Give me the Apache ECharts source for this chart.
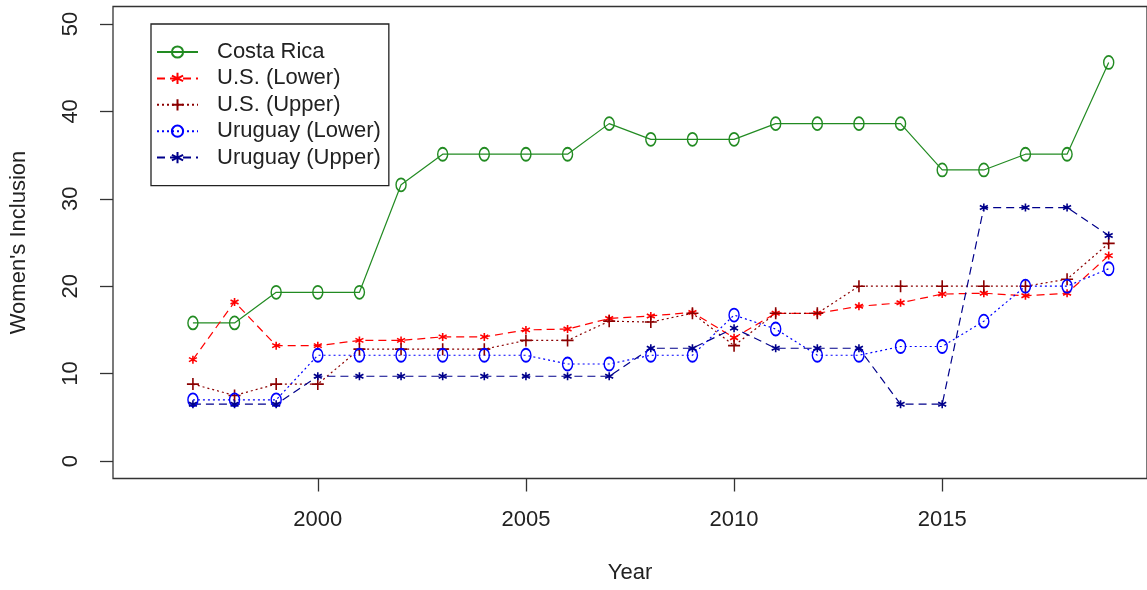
<!DOCTYPE html>
<html>
<head>
<meta charset="utf-8">
<script src="https://cdn.jsdelivr.net/npm/echarts@6/dist/echarts.min.js"></script>
<style>
  html, body { margin: 0; padding: 0; background: #fff; }
  #chart { width: 1147px; height: 590px; }
</style>
</head>
<body>
<div id="chart"></div>
<script>
'use strict';

const years = [1997, 1998, 1999, 2000, 2001, 2002, 2003, 2004, 2005, 2006, 2007, 2008,
  2009, 2010, 2011, 2012, 2013, 2014, 2015, 2016, 2017, 2018, 2019];
const costaRica = [15.8, 15.8, 19.3, 19.3, 19.3, 31.6, 35.1, 35.1, 35.1, 35.1, 38.6, 36.8,
  36.8, 36.8, 38.6, 38.6, 38.6, 38.6, 33.3, 33.3, 35.1, 35.1, 45.6];
const usLower = [11.6, 18.2, 13.2, 13.2, 13.8, 13.8, 14.2, 14.2, 15.0, 15.1, 16.3, 16.6,
  17.0, 14.1, 16.9, 16.9, 17.7, 18.1, 19.1, 19.2, 18.9, 19.2, 23.5];
const usUpper = [8.8, 7.5, 8.8, 8.8, 12.8, 12.8, 12.8, 12.8, 13.8, 13.8, 16.0, 15.9,
  16.9, 13.2, 16.9, 16.9, 20.0, 20.0, 20.0, 20.0, 20.0, 20.8, 24.9];
const uyLower = [7.0, 7.0, 7.0, 12.1, 12.1, 12.1, 12.1, 12.1, 12.1, 11.1, 11.1, 12.1,
  12.1, 16.7, 15.1, 12.1, 12.1, 13.1, 13.1, 16.0, 20.0, 20.0, 22.0];
const uyUpper = [6.5, 6.5, 6.5, 9.7, 9.7, 9.7, 9.7, 9.7, 9.7, 9.7, 9.7, 12.9,
  12.9, 15.2, 12.9, 12.9, 12.9, 6.5, 6.5, 29.0, 29.0, 29.0, 25.8];
const xTicks = [2000, 2005, 2010, 2015];
const yTicks = [0, 10, 20, 30, 40, 50];

const FONT = 'Liberation Sans, Arial, sans-serif';
const SYM_O = 'path://M0,-1A0.72,1 0 1 1 0,1A0.72,1 0 1 1 0,-1Z';
const SYM_STAR = 'path://M0,-1L0,1M-0.87,-0.5L0.87,0.5M-0.87,0.5L0.87,-0.5';
const SYM_PLUS = 'path://M-1,0L1,0M0,-1L0,1';

function lineSeries(name, values, color, dash, symbol, size) {
  return {
    name: name,
    type: 'line',
    data: years.map((y, i) => [y, values[i]]),
    symbol: symbol,
    symbolSize: size,
    showSymbol: true,
    clip: true,
    lineStyle: { color: color, width: 1.2, type: dash },
    itemStyle: { color: 'rgba(0,0,0,0)', borderColor: color, borderWidth: 1.6 },
    emphasis: { disabled: true },
  };
}

const chart = echarts.init(document.getElementById('chart'));
chart.setOption({
  animation: false,
  backgroundColor: '#fff',
  grid: {
    left: 112, top: 6.5, width: 1037, height: 472,
    show: true, borderColor: '#333', borderWidth: 1.3, backgroundColor: 'transparent',
  },
  legend: {
    orient: 'vertical',
    left: 151, top: 24,
    padding: [16, 8, 16, 5],
    itemWidth: 41, itemHeight: 14, itemGap: 2.4,
    borderColor: '#222', borderWidth: 1.3, backgroundColor: '#fff',
    textStyle: { fontFamily: FONT, fontSize: 22, color: '#222', lineHeight: 24, padding: [0, 0, 0, 14] },
    data: ['Costa Rica', 'U.S. (Lower)', 'U.S. (Upper)', 'Uruguay (Lower)', 'Uruguay (Upper)'],
  },
  xAxis: {
    type: 'value', min: 1995.08, max: 2019.92,
    name: 'Year', nameLocation: 'middle', nameGap: 83,
    nameTextStyle: { fontFamily: FONT, fontSize: 22, color: '#222' },
    axisLine: { show: false, onZero: false },
    splitLine: { show: false },
    axisTick: { show: true, customValues: xTicks, length: 13, inside: false, lineStyle: { color: '#333', width: 1.3 } },
    axisLabel: {
      customValues: xTicks, margin: 30, fontFamily: FONT, fontSize: 22, color: '#222',
      formatter: (v) => String(v),
    },
  },
  yAxis: {
    type: 'value', min: -2, max: 52,
    name: "Women's Inclusion", nameLocation: 'middle', nameGap: 83, nameRotate: 90,
    nameTextStyle: { fontFamily: FONT, fontSize: 22, color: '#222' },
    axisLine: { show: false, onZero: false },
    splitLine: { show: false },
    axisTick: { show: true, customValues: yTicks, length: 13, inside: false, lineStyle: { color: '#333', width: 1.3 } },
    axisLabel: {
      customValues: yTicks, rotate: 90, margin: 31, fontFamily: FONT, fontSize: 22, color: '#222',
      formatter: (v) => String(v),
    },
  },
  series: [
    lineSeries('Costa Rica', costaRica, '#228B22', 'solid', SYM_O, [10, 13]),
    lineSeries('U.S. (Lower)', usLower, '#FF0000', [8, 5], SYM_STAR, 8),
    lineSeries('U.S. (Upper)', usUpper, '#8B0000', [2, 3], SYM_PLUS, 12),
    lineSeries('Uruguay (Lower)', uyLower, '#0000FF', [2, 3], SYM_O, [10, 13]),
    lineSeries('Uruguay (Upper)', uyUpper, '#00008B', [8, 5], SYM_STAR, 8),
  ],
});
</script>
</body>
</html>
